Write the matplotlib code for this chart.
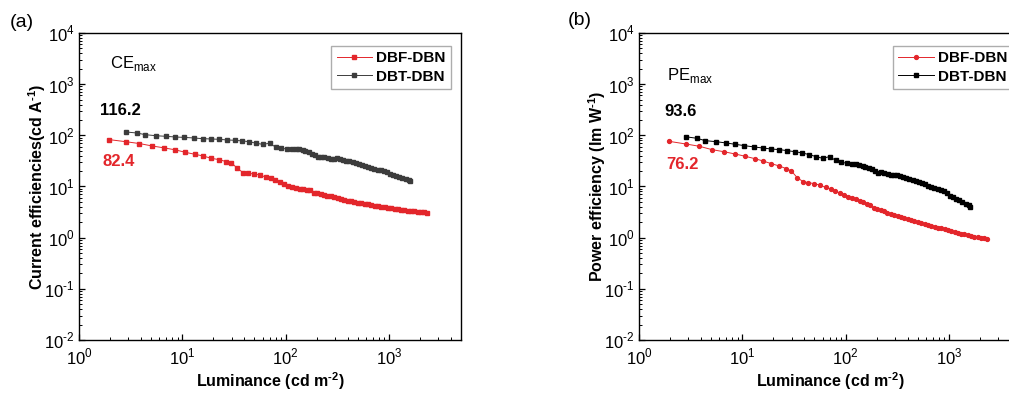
import numpy as np
import matplotlib
matplotlib.use('Agg')
import matplotlib.pyplot as plt
from matplotlib.ticker import FuncFormatter, LogLocator

plt.rcParams['font.family'] = ['Liberation Sans', 'DejaVu Sans']
plt.rcParams['mathtext.fontset'] = 'custom'
plt.rcParams['mathtext.rm'] = 'Liberation Sans'
plt.rcParams['mathtext.bf'] = 'Liberation Sans:bold'

# luminance (cd m-2)
lum_dbf = [1.96, 2.84, 3.85, 5.08, 6.6, 8.55, 10.7, 13.2, 15.9, 19.1, 22.9, 26.7, 29.9,
           34.0, 38.9, 43.4, 49.2, 56, 64, 71.5, 78.7, 87.5, 96.4, 106, 116,
           126, 137, 148, 160, 173, 187, 202, 218, 235, 254, 274, 296, 319, 344, 371,
           400, 431, 465, 501, 540, 582, 627, 676, 728, 784, 845, 910, 980, 1055, 1136,
           1223, 1317, 1418, 1527, 1644, 1770, 1905, 2050, 2200, 2320]
lum_dbt = [2.84, 3.63, 4.37, 5.6, 7.0, 8.55, 10.5, 13.0, 15.7, 19, 22.9, 27.3, 32.2, 38,
           44.7, 52, 60, 70, 80, 91, 104, 116,
           127, 136, 146, 156, 168, 180, 193, 207, 222, 238, 255, 273, 293, 314, 337,
           361, 387, 415, 445, 477, 511, 548, 588, 630, 676, 724, 777, 833, 893, 957,
           1026, 1100, 1180, 1265, 1356, 1454, 1558, 1610]

# current efficiency (cd A-1)
ce_dbf = [82.4, 75, 69, 62, 57, 52, 46.6, 42.6, 39.5, 35.5, 33.4, 30.5, 29.2,
          22.7, 18.6, 18.1, 17.6, 16.8, 15.3, 14.4, 13.4, 12.4, 11.3, 10.4, 9.8,
          9.5, 9.1, 8.8, 8.6, 8.4, 7.6, 7.4, 7.2, 6.9, 6.6, 6.4, 6.1, 5.9, 5.7, 5.5,
          5.3, 5.15, 5.0, 4.85, 4.7, 4.55, 4.45, 4.35, 4.22, 4.12, 4.02, 3.92, 3.82, 3.73, 3.65,
          3.57, 3.49, 3.42, 3.36, 3.3, 3.25, 3.2, 3.15, 3.11, 3.08]
ce_dbt = [116.2, 111, 103, 98, 95.5, 92.7, 91, 88.6, 86, 84.8, 83.5, 81, 80, 77.6,
          75, 69.8, 66.7, 69.8, 59, 55.7, 54, 54,
          53.8, 53.5, 51, 48.5, 46.6, 44, 41, 37.8, 38.5, 37.5, 35.5, 35, 34.5, 35.5, 35,
          33.2, 32, 30.8, 29.6, 28.2, 27, 26, 25, 23.6, 22.7, 21.6, 20.6, 21.2, 20.2, 18.8,
          17.8, 17.0, 16.2, 15.4, 14.6, 13.8, 13.1, 12.8]

# power efficiency (lm W-1)
pe_dbf = [76.2, 67.7, 61, 52.5, 47.9, 43.1, 38.9, 35, 31.5, 27.9, 25.1, 22.3, 20.1,
          14.9, 12.4, 11.9, 11.4, 10.7, 9.6, 8.9, 8.2, 7.5, 6.8, 6.3, 6.0,
          5.6, 5.3, 5.0, 4.6, 4.4, 3.8, 3.65, 3.5, 3.3, 3.1, 2.9, 2.78, 2.65, 2.55, 2.43,
          2.32, 2.21, 2.1, 2.0, 1.92, 1.84, 1.77, 1.70, 1.63, 1.57, 1.51, 1.46, 1.40, 1.35, 1.30,
          1.25, 1.20, 1.16, 1.12, 1.08, 1.05, 1.02, 0.99, 0.97, 0.95]
pe_dbt = [93.6, 87.5, 78.7, 75, 70.8, 66.7, 62.8, 59.2, 56.6, 54, 52.5, 50.1, 47.9, 45.2,
          41.9, 38.3, 35.5, 38.3, 32.5, 29.7, 28.4, 27.5,
          27.2, 26.8, 25.2, 24, 22.6, 21.5, 20.3, 18.6, 18.8, 18.2, 17.6, 17, 16.5, 16.8, 16.3,
          15.4, 14.8, 14.1, 13.5, 12.8, 12.2, 11.6, 11.0, 10.4, 9.9, 9.3, 8.8, 8.7, 8.1, 7.4,
          6.6, 6.1, 5.7, 5.35, 5.0, 4.6, 4.25, 4.04]

RED = '#e3262b'
HY = '\u2010'  # short hyphen like the original figure, instead of a long minus


def pow10(v, pos):
    e = int(round(np.log10(v)))
    s = str(e).replace('-', HY)
    return '10$^{\\mathrm{' + s + '}}$'


fig = plt.figure(figsize=(10.09, 3.93), dpi=100)
ax1 = fig.add_axes([0.0783, 0.1349, 0.3786, 0.7812])
ax2 = fig.add_axes([0.6333, 0.1349, 0.3786, 0.7812])


def style(ax, ylabel):
    ax.set_xscale('log')
    ax.set_yscale('log')
    ax.set_xlim(1, 5000)
    ax.set_ylim(1e-2, 1e4)
    ax.set_yticks([1e-2, 1e-1, 1e0, 1e1, 1e2, 1e3, 1e4])
    ax.set_xticks([1, 10, 100, 1000])
    ax.yaxis.set_minor_locator(LogLocator(base=10, subs=np.arange(2, 10), numticks=20))
    ax.xaxis.set_minor_locator(LogLocator(base=10, subs=np.arange(2, 10), numticks=20))
    ax.xaxis.set_major_formatter(FuncFormatter(pow10))
    ax.yaxis.set_major_formatter(FuncFormatter(pow10))
    ax.tick_params(which='both', direction='in', top=False, right=False, labelsize=12)
    ax.tick_params(which='major', length=4, width=0.9, pad=3)
    ax.tick_params(axis='x', which='major', pad=5)
    ax.tick_params(which='minor', length=2.5, width=0.7)
    for s in ax.spines.values():
        s.set_linewidth(1.0)
    ax.set_xlabel('Luminance (cd m$^{\\mathbf{' + HY + '2}}$)', fontsize=11.5, fontweight='bold')
    ax.set_ylabel(ylabel, fontsize=11.5, fontweight='bold')
    ax.xaxis.set_label_coords(0.5, -0.1)
    ax.yaxis.set_label_coords(-0.08, 0.5)


leg_kw = dict(fancybox=False, edgecolor='#999999', prop={'weight': 'bold', 'size': 11},
              handlelength=2.3, borderpad=0.35, labelspacing=0.3, handletextpad=0.3,
              borderaxespad=0)

# (a) current efficiency
ax1.plot(lum_dbf, ce_dbf, '-s', color=RED, ms=2.8, lw=0.7, mec=RED, label='DBF-DBN')
ax1.plot(lum_dbt, ce_dbt, '-s', color='#3c3c3c', ms=2.8, lw=0.7, label='DBT-DBN')
style(ax1, 'Current efficiencies(cd A$^{\\mathbf{' + HY + '1}}$)')
ax1.legend(loc='upper right', bbox_to_anchor=(0.974, 0.958), **leg_kw)
ax1.text(0.081, 0.902, 'CE$_{\\mathrm{max}}$', transform=ax1.transAxes, fontsize=12, va='center')
ax1.text(0.107, 0.749, '116.2', transform=ax1.transAxes, fontsize=12, fontweight='bold',
         ha='center', va='center')
ax1.text(0.105, 0.58, '82.4', transform=ax1.transAxes, fontsize=12, fontweight='bold',
         ha='center', va='center', color=RED)

# (b) power efficiency
ax2.plot(lum_dbf, pe_dbf, '-o', color=RED, ms=2.8, lw=0.7, label='DBF-DBN')
ax2.plot(lum_dbt, pe_dbt, '-s', color='black', ms=2.8, lw=0.7, label='DBT-DBN')
style(ax2, 'Power efficiency (lm W$^{\\mathbf{' + HY + '1}}$)')
ax2.legend(loc='upper left', bbox_to_anchor=(0.665, 0.958), **leg_kw)
ax2.text(0.073, 0.863, 'PE$_{\\mathrm{max}}$', transform=ax2.transAxes, fontsize=12, va='center')
ax2.text(0.11, 0.743, '93.6', transform=ax2.transAxes, fontsize=12, fontweight='bold',
         ha='center', va='center')
ax2.text(0.113, 0.57, '76.2', transform=ax2.transAxes, fontsize=12, fontweight='bold',
         ha='center', va='center', color=RED)

fig.text(0.022, 0.944, '(a)', fontsize=14, ha='center', va='center')
fig.text(0.575, 0.949, '(b)', fontsize=14, ha='center', va='center')

fig.savefig('out.png', dpi=100)
